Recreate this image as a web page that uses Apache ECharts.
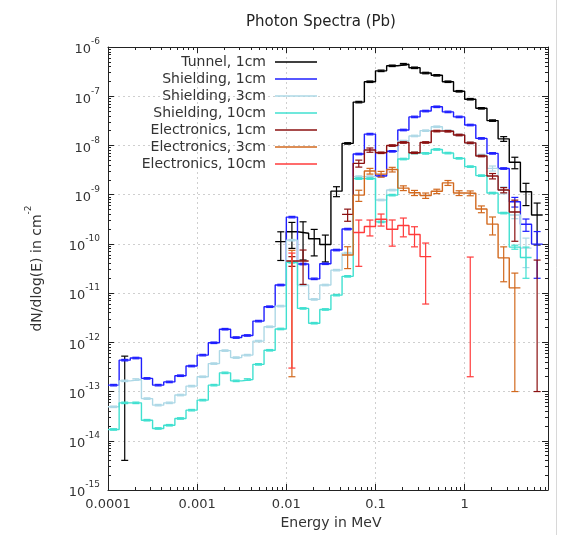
<!DOCTYPE html>
<html><head><meta charset="utf-8">
<script src="https://cdn.jsdelivr.net/npm/echarts@6/dist/echarts.min.js"></script>
<style>html,body{margin:0;padding:0;background:#fff}#c{width:567px;height:535px}</style>
</head><body><div id="c"></div>
<script>
// ---- bins: 8 log-uniform bins per decade starting at 1e-4 MeV ----
const binsPerDecade = 8;
const firstEdgeExp = -4;
const xMin = 0.0001, xMax = 8.6;
const yMinExp = -15, yMaxExp = -6;
const xTickValues = [0.0001, 0.001, 0.01, 0.1, 1];
const xTickLabels = ['0.0001', '0.001', '0.01', '0.1', '1'];

const seriesNames = ['Tunnel, 1cm', 'Shielding, 1cm', 'Shielding, 3cm', 'Shielding, 10cm',
  'Electronics, 1cm', 'Electronics, 3cm', 'Electronics, 10cm'];

// values per bin (index 0 = first bin above 1e-4 MeV), null = empty bin
const tunnel1 = [null, 2.64e-13, null, null, null, null, null, null, null, null, null, null, null, null, null,
  1.11e-10, 1.77e-10, 1.64e-10, 1.27e-10, 9.7e-11, 1.18e-9, 1.1e-8, 7.6e-8, 1.97e-7, 3.28e-7, 4.15e-7, 4.47e-7,
  3.78e-7, 2.96e-7, 2.66e-7, 1.97e-7, 1.26e-7, 8.7e-8, 5.68e-8, 3.2e-8, 1.36e-8, 4.56e-9, 1.15e-9, 3.85e-10];
const shield1 = [1.35e-13, 4.35e-13, 4.8e-13, 1.85e-13, 1.35e-13, 1.57e-13, 2.1e-13, 3.3e-13, 5.5e-13, 9.8e-13,
  1.85e-12, 1.25e-12, 1.38e-12, 2.7e-12, 5.3e-12, 1.46e-11, 3.5e-10, 3.9e-11, 1.95e-11, 3.95e-11,
  7.5e-11, 2.0e-10, 6.7e-9, 1.7e-8, 2.4e-9, 7.6e-9, 2.06e-8, 3.8e-8, 5.0e-8, 6.1e-8,
  4.8e-8, 3.8e-8, 2.6e-8, 1.39e-8, 6.9e-9, 3.4e-9, 7.2e-10, 2.5e-10, 9.9e-11];
const shield3 = [4.9e-14, 1.65e-13, 1.76e-13, 7.2e-14, 5.3e-14, 5.9e-14, 8.5e-14, 1.29e-13, 2.0e-13, 3.7e-13,
  6.8e-13, 4.9e-13, 5.5e-13, 1.06e-12, 2.07e-12, 5.45e-12, 1.19e-10, 1.46e-11, 7.45e-12, 1.46e-11,
  2.93e-11, 6.5e-11, 2.33e-9, 2.33e-9, 7.8e-10, 1.24e-9, 1.23e-8, 1.56e-8, 2.0e-8, 2.4e-8,
  2.0e-8, 1.63e-8, 1.12e-8, 6.4e-9, 3.42e-9, 1.24e-9, 3.85e-10, 8.2e-11, null];
const shield10 = [1.7e-14, 5.9e-14, 5.9e-14, 2.62e-14, 1.78e-14, 2.07e-14, 2.84e-14, 4.19e-14, 6.7e-14, 1.35e-13,
  2.4e-13, 1.65e-13, 1.76e-13, 3.57e-13, 6.9e-13, 1.87e-12, 4.22e-11, 4.89e-12, 2.45e-12, 4.66e-12,
  9.1e-12, 2.19e-11, 2.12e-9, 2.12e-9, 2.8e-10, 9.8e-10, 5.3e-9, 7.0e-9, 6.9e-9, 8.3e-9,
  7.0e-9, 5.47e-9, 3.72e-9, 2.44e-9, 1.08e-9, 4.23e-10, 8.6e-11, 5.3e-11, null];
const elec1 = [null, null, null, null, null, null, null, null, null, null, null, null, null, null, null, null,
  4.5e-11, 4.5e-11, null, null, null, 3.98e-10, 4.33e-9, 8.07e-9, 7.1e-9, 9.95e-9, 1.15e-8, 7.1e-9, 1.15e-8,
  1.96e-8, 1.94e-8, 1.63e-8, 1.13e-8, 6.1e-9, 2.39e-9, 1.24e-9, 4.43e-10, null, 2.35e-11];
const elec3 = [null, null, null, null, null, null, null, null, null, null, null, null, null, null, null, null,
  3.71e-11, null, null, null, null, 5.95e-11, 9.8e-10, 3.02e-9, 2.62e-9, 3.24e-9, 1.36e-9, 1.09e-9, 9.6e-10,
  1.17e-9, 1.74e-9, 1.08e-9, 1.07e-9, 5.1e-10, 2.52e-10, 5.2e-11, 1.28e-11, null, null];
const elec10 = [null, null, null, null, null, null, null, null, null, null, null, null, null, null, null, null,
  3.27e-11, null, null, null, null, null, 1.7e-10, 2.25e-10, 3.17e-10, 1.98e-10, 2.37e-10, 1.55e-10, 5.5e-11,
  null, null, null, 2.71e-11, null, null, null, null, null, null];

// absolute y errors (dy) where they are visible; other bins carry a small relative error
const defaultRelErr = 0.035;
const tunnel1Err = {1: 2.6e-13, 15: 6.5e-11, 16: 9.6e-11, 17: 1.17e-10, 18: 7e-11, 19: 5.4e-11, 20: 2.7e-10,
  35: 1.5e-9, 36: 1.2e-9, 37: 5.5e-10, 38: 2.9e-10};
const shield1Err = {36: 1.6e-10, 37: 7e-11, 38: 7.9e-11};
const shield3Err = {34: 4e-10, 35: 2e-10, 36: 6e-11, 37: 4.9e-11};
const shield10Err = {36: 8e-12, 37: 3.3e-11};
const elec1Err = {16: 1e-11, 17: 3e-11, 21: 1.1e-10, 22: 7e-10, 23: 8e-10, 34: 3e-10, 35: 1.5e-10, 36: 3.3e-10, 38: 2.34e-11};
const elec3Err = {16: 3.69e-11, 21: 2.8e-11, 22: 2.5e-10, 23: 4e-10, 24: 3.5e-10, 25: 3.5e-10, 26: 1.5e-10,
  27: 1.3e-10, 28: 1.2e-10, 29: 1.2e-10, 30: 2e-10, 31: 1.2e-10, 32: 1.2e-10, 33: 8e-11, 34: 1e-10,
  35: 3.5e-11, 36: 1.27e-11};
const elec10Err = {16: 3.24e-11, 22: 1.35e-10, 23: 8e-11, 24: 8.7e-11, 25: 1.08e-10, 26: 9.8e-11, 27: 6.8e-11,
  28: 4.9e-11, 32: 2.69e-11};

const seriesValues = [tunnel1, shield1, shield3, shield10, elec1, elec3, elec10];
const seriesErrors = [tunnel1Err, shield1Err, shield3Err, shield10Err, elec1Err, elec3Err, elec10Err];
const seriesColors = ['#000000', '#1f1fff', '#add8e6', '#40e0d0', '#8b1010', '#d2691e', '#ff3b3b'];

// ---- helpers ----
const edge = k => Math.pow(10, firstEdgeExp + k / binsPerDecade);
const center = k => Math.pow(10, firstEdgeExp + (k + 0.5) / binsPerDecade);

function stepData(vals) {
  const out = [];
  for (let k = 0; k < vals.length; k++) {
    const v = vals[k];
    if (v == null) continue;
    const prev = k > 0 ? vals[k - 1] : null;
    const next = k < vals.length - 1 ? vals[k + 1] : null;
    if (prev == null && next == null) continue; // isolated bin: error bar only
    if (prev == null && out.length) out.push([edge(k), '-']);
    out.push([edge(k), v]);
    out.push([edge(k + 1), v]);
  }
  return out;
}
function errData(vals, errs) {
  const out = [];
  vals.forEach((v, k) => {
    if (v == null) return;
    const dy = errs[k] != null ? errs[k] : v * defaultRelErr;
    out.push([center(k), v, dy]);
  });
  return out;
}
function minorValues(lo, hi) {
  const out = [];
  for (let e = Math.floor(Math.log10(lo)); e <= Math.ceil(Math.log10(hi)); e++) {
    for (let m = 2; m <= 9; m++) {
      const v = m * Math.pow(10, e);
      if (v > lo && v < hi) out.push(v);
    }
  }
  return out;
}
const yMajor = [];
for (let e = yMinExp; e <= yMaxExp; e++) yMajor.push(Math.pow(10, e));
const xMinor = minorValues(xMin, xMax);
const yMinor = minorValues(Math.pow(10, yMinExp), Math.pow(10, yMaxExp));

const axisColor = '#222';
const labelColor = '#333';
const FONT = 'DejaVu Sans';

function xAxisDef(pos, major, withLabels) {
  return {
    type: 'log', logBase: 10, min: xMin, max: xMax, position: pos, gridIndex: 0,
    axisLine: {show: major, onZero: false, lineStyle: {color: axisColor, width: 1}},
    axisTick: {show: true, inside: true, length: major ? 6 : 3, customValues: major ? xTickValues : xMinor,
      lineStyle: {color: axisColor, width: 1}},
    axisLabel: withLabels ? {
      show: true, customValues: xTickValues, margin: 8, fontSize: 13, color: labelColor, fontFamily: FONT,
      formatter: v => { const i = xTickValues.findIndex(t => Math.abs(Math.log10(t) - Math.log10(v)) < 1e-6); return i >= 0 ? xTickLabels[i] : ''; }
    } : {show: false},
    splitLine: withLabels ? {show: true, lineStyle: {color: '#cfcfcf', type: [2, 3], width: 1}} : {show: false},
    minorTick: {show: false}
  };
}
function yAxisDef(pos, major, withLabels) {
  return {
    type: 'log', logBase: 10, min: Math.pow(10, yMinExp), max: Math.pow(10, yMaxExp), position: pos, gridIndex: 0,
    splitNumber: 10,
    axisLine: {show: major, onZero: false, lineStyle: {color: axisColor, width: 1}},
    axisTick: {show: true, inside: true, length: major ? 6 : 3, customValues: major ? yMajor : yMinor,
      lineStyle: {color: axisColor, width: 1}},
    axisLabel: withLabels ? {
      show: true, customValues: yMajor, margin: 8, color: labelColor, fontFamily: FONT,
      formatter: v => '{b|10}{s|' + Math.round(Math.log10(v)) + '}',
      rich: {
        b: {fontSize: 13, color: labelColor, fontFamily: FONT, verticalAlign: 'bottom', lineHeight: 19},
        s: {fontSize: 9, color: labelColor, fontFamily: FONT, verticalAlign: 'top', lineHeight: 10}
      }
    } : {show: false},
    splitLine: withLabels ? {show: true, lineStyle: {color: '#cfcfcf', type: [2, 3], width: 1}} : {show: false},
    name: withLabels ? '{b|dN/dlog(E) in cm}{s|-2}' : '',
    nameLocation: 'middle', nameGap: 64, nameRotate: 90,
    nameTextStyle: {
      rich: {
        b: {fontSize: 14, color: labelColor, fontFamily: FONT, verticalAlign: 'bottom', lineHeight: 20},
        s: {fontSize: 9, color: labelColor, fontFamily: FONT, verticalAlign: 'top', lineHeight: 10}
      }
    },
    minorTick: {show: false}
  };
}

const xAxes = [xAxisDef('bottom', true, true), xAxisDef('bottom', false, false), xAxisDef('top', true, false), xAxisDef('top', false, false)];
xAxes[0].name = 'Energy in MeV';
xAxes[0].nameLocation = 'middle';
xAxes[0].nameGap = 25;
xAxes[0].nameTextStyle = {fontSize: 14, color: labelColor, fontFamily: FONT, padding: [0, 0, 0, 6]};
const yAxes = [yAxisDef('left', true, true), yAxisDef('left', false, false), yAxisDef('right', true, false), yAxisDef('right', false, false)];

const series = [];
seriesNames.forEach((name, i) => {
  series.push({
    type: 'line', name: name, xAxisIndex: 0, yAxisIndex: 0,
    data: stepData(seriesValues[i]), showSymbol: false, symbol: 'none', connectNulls: false,
    lineStyle: {color: seriesColors[i], width: 1.4}, itemStyle: {color: seriesColors[i]},
    animation: false, z: 2 + i * 2
  });
  series.push({
    type: 'custom', name: name + ' errors', xAxisIndex: 0, yAxisIndex: 0,
    data: errData(seriesValues[i], seriesErrors[i]), clip: true, z: 3 + i * 2,
    renderItem: (params, api) => {
      const x = api.value(0), v = api.value(1), dy = api.value(2);
      const hi = v + dy, lo = v - dy;
      const pH = api.coord([x, hi]);
      const cs = params.coordSys;
      const yLo = lo > 0 ? api.coord([x, lo])[1] : cs.y + cs.height + 2;
      const st = {stroke: seriesColors[i], lineWidth: 1.2};
      const w = 3.5;
      const ch = [
        {type: 'line', shape: {x1: pH[0], y1: pH[1], x2: pH[0], y2: yLo}, style: st},
        {type: 'line', shape: {x1: pH[0] - w, y1: pH[1], x2: pH[0] + w, y2: pH[1]}, style: st}
      ];
      if (lo > 0) ch.push({type: 'line', shape: {x1: pH[0] - w, y1: yLo, x2: pH[0] + w, y2: yLo}, style: st});
      return {type: 'group', children: ch};
    },
    animation: false
  });
});

const chart = echarts.init(document.getElementById('c'), null, {renderer: 'canvas'});
chart.setOption({
  animation: false,
  backgroundColor: '#ffffff',
  textStyle: {fontFamily: FONT},
  title: {text: 'Photon Spectra (Pb)', left: 316, top: 10, textAlign: 'center',
    textStyle: {fontSize: 15, fontWeight: 'normal', color: '#222', fontFamily: FONT}},
  grid: {left: 108, right: 19, top: 47, bottom: 45, containLabel: false},
  legend: {
    data: seriesNames, orient: 'vertical', align: 'right', right: 250, top: 55, padding: 0,
    itemWidth: 42, itemHeight: 1.6, itemGap: 3, icon: 'rect', selectedMode: false,
    textStyle: {fontSize: 14, color: labelColor, fontFamily: FONT, lineHeight: 14, padding: [0, 4, 0, 0]}
  },
  xAxis: xAxes,
  yAxis: yAxes,
  series: series,
  graphic: [{type: 'line', shape: {x1: 556.5, y1: 0, x2: 556.5, y2: 535}, style: {stroke: '#d8d8d8', lineWidth: 1}, silent: true}]
});
</script>
</body></html>
